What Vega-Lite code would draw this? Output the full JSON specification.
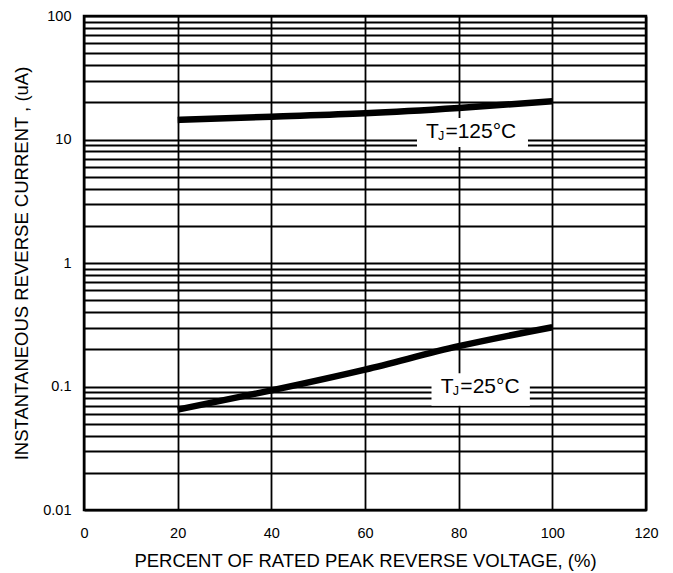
{
  "$schema": "https://vega.github.io/schema/vega-lite/v6.json",
  "width": 562,
  "height": 494,
  "autosize": {"type": "none"},
  "padding": {"left": 84, "top": 16, "right": 27, "bottom": 63},
  "background": "white",
  "config": {
    "font": "Liberation Sans",
    "view": {"stroke": "black", "strokeWidth": 2.5},
    "axis": {
      "labelFont": "Liberation Sans",
      "titleFont": "Liberation Sans",
      "labelColor": "black",
      "titleColor": "black",
      "labelFontSize": 14.5,
      "titleFontSize": 18.5,
      "titleFontWeight": "normal",
      "ticks": false,
      "domain": false,
      "grid": true,
      "gridColor": "black",
      "gridOpacity": 1,
      "gridWidth": 1.8,
      "labelFlush": false,
      "labelOverlap": false
    }
  },
  "datasets": {
    "curves": [
      {"x": 20, "y": 14.4, "series": "125"},
      {"x": 40, "y": 15.3, "series": "125"},
      {"x": 60, "y": 16.3, "series": "125"},
      {"x": 80, "y": 18.0, "series": "125"},
      {"x": 100, "y": 20.4, "series": "125"},
      {"x": 20, "y": 0.065, "series": "25"},
      {"x": 40, "y": 0.093, "series": "25"},
      {"x": 60, "y": 0.137, "series": "25"},
      {"x": 80, "y": 0.212, "series": "25"},
      {"x": 100, "y": 0.302, "series": "25"}
    ],
    "labels": [
      {"x": 73.0, "y": 10.3, "x0": 71.1, "x1": 94.8, "y0": 8.69, "y1": 14.9, "t": "T", "j": "J", "rest": "=125°C"},
      {"x": 76.2, "y": 0.0881, "x0": 74.2, "x1": 95.2, "y0": 0.070, "y1": 0.128, "t": "T", "j": "J", "rest": "=25°C"}
    ]
  },
  "encoding": {
    "x": {
      "field": "x",
      "type": "quantitative",
      "scale": {"domain": [0, 120], "nice": false, "zero": false},
      "axis": {
        "values": [0, 20, 40, 60, 80, 100, 120],
        "title": "PERCENT OF RATED PEAK REVERSE VOLTAGE, (%)",
        "labelPadding": 16,
        "titlePadding": 12
      }
    },
    "y": {
      "field": "y",
      "type": "quantitative",
      "scale": {"type": "log", "domain": [0.01, 100], "nice": false},
      "axis": {
        "values": [0.01, 0.02, 0.03, 0.04, 0.05, 0.06, 0.07, 0.08, 0.09, 0.1, 0.2, 0.3, 0.4, 0.5, 0.6, 0.7, 0.8, 0.9, 1, 2, 3, 4, 5, 6, 7, 8, 9, 10, 20, 30, 40, 50, 60, 70, 80, 90, 100],
        "format": "~g",
        "labelExpr": "indexof([0.01,0.1,1,10,100], datum.value) >= 0 ? datum.label : ''",
        "title": "INSTANTANEOUS REVERSE CURRENT , (uA)",
        "labelPadding": 13,
        "titlePadding": 11
      }
    }
  },
  "layer": [
    {
      "data": {"name": "curves"},
      "mark": {"type": "line", "color": "black", "strokeWidth": 6.5, "interpolate": "monotone", "strokeCap": "butt"},
      "encoding": {"detail": {"field": "series"}}
    },
    {
      "data": {"name": "labels"},
      "mark": {"type": "rect", "color": "white"},
      "encoding": {
        "x": {"field": "x0", "type": "quantitative"},
        "x2": {"field": "x1"},
        "y": {"field": "y0", "type": "quantitative"},
        "y2": {"field": "y1"}
      }
    },
    {
      "data": {"name": "labels"},
      "mark": {"type": "text", "align": "left", "baseline": "alphabetic", "fontSize": 21, "color": "black"},
      "encoding": {"text": {"field": "t"}}
    },
    {
      "data": {"name": "labels"},
      "mark": {"type": "text", "align": "left", "baseline": "alphabetic", "fontSize": 12.5, "color": "black", "dx": 12, "dy": 2},
      "encoding": {"text": {"field": "j"}}
    },
    {
      "data": {"name": "labels"},
      "mark": {"type": "text", "align": "left", "baseline": "alphabetic", "fontSize": 21, "color": "black", "dx": 19.5},
      "encoding": {"text": {"field": "rest"}}
    }
  ]
}
